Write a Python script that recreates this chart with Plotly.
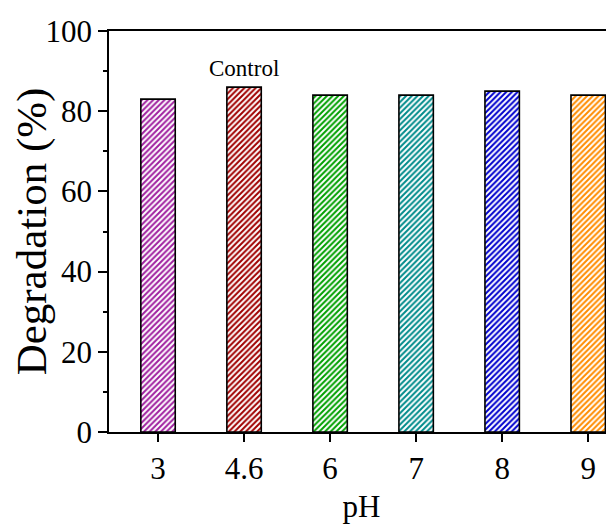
import plotly.graph_objects as go

ph_labels = ["3", "4.6", "6", "7", "8", "9"]
degradation = [83, 86, 84, 84, 85, 84]
bar_colors = ["#A020A0", "#A00000", "#00A000", "#008B8B", "#0000CD", "#FF8C00"]
annotation_text = "Control"
annotation_index = 1

FONT = "Liberation Serif, Times New Roman, serif"

fig = go.Figure()
fig.add_trace(go.Bar(
    x=ph_labels,
    y=degradation,
    width=0.4,
    marker=dict(
        color="white",
        line=dict(color="black", width=1.6),
        pattern=dict(shape="/", fgcolor=bar_colors, bgcolor="white",
                     fgopacity=1, size=4, solidity=0.5, fillmode="replace"),
    ),
    showlegend=False,
))

fig.add_annotation(
    x=annotation_index, y=degradation[annotation_index],
    text=annotation_text, showarrow=False, yshift=19,
    font=dict(family=FONT, size=23, color="black"),
)

fig.update_layout(
    width=606, height=517,
    margin=dict(l=101, r=0, t=23, b=93),
    paper_bgcolor="white", plot_bgcolor="white",
    font=dict(family=FONT, color="black"),
    xaxis=dict(
        type="category", range=[-0.57, 5.30],
        showline=True, linecolor="black", linewidth=1.5, mirror=True,
        ticks="outside", ticklen=8, tickwidth=1.5, tickcolor="black",
        tickfont=dict(size=31, family=FONT),
        title=dict(text="pH", font=dict(size=31, family=FONT), standoff=10),
        showgrid=False, zeroline=False,
    ),
    yaxis=dict(
        range=[0, 100], tickvals=[0, 20, 40, 60, 80, 100],
        showline=True, linecolor="black", linewidth=1.5,
        ticks="outside", ticklen=9, tickwidth=1.5, tickcolor="black",
        minor=dict(tickvals=[10, 30, 50, 70, 90], ticks="outside", ticklen=4,
                   tickwidth=1.5, tickcolor="black"),
        tickfont=dict(size=31, family=FONT),
        title=dict(text="Degradation (%)", font=dict(size=43, family=FONT), standoff=6),
        showgrid=False, zeroline=False,
    ),
)

fig.write_html("out.html")
